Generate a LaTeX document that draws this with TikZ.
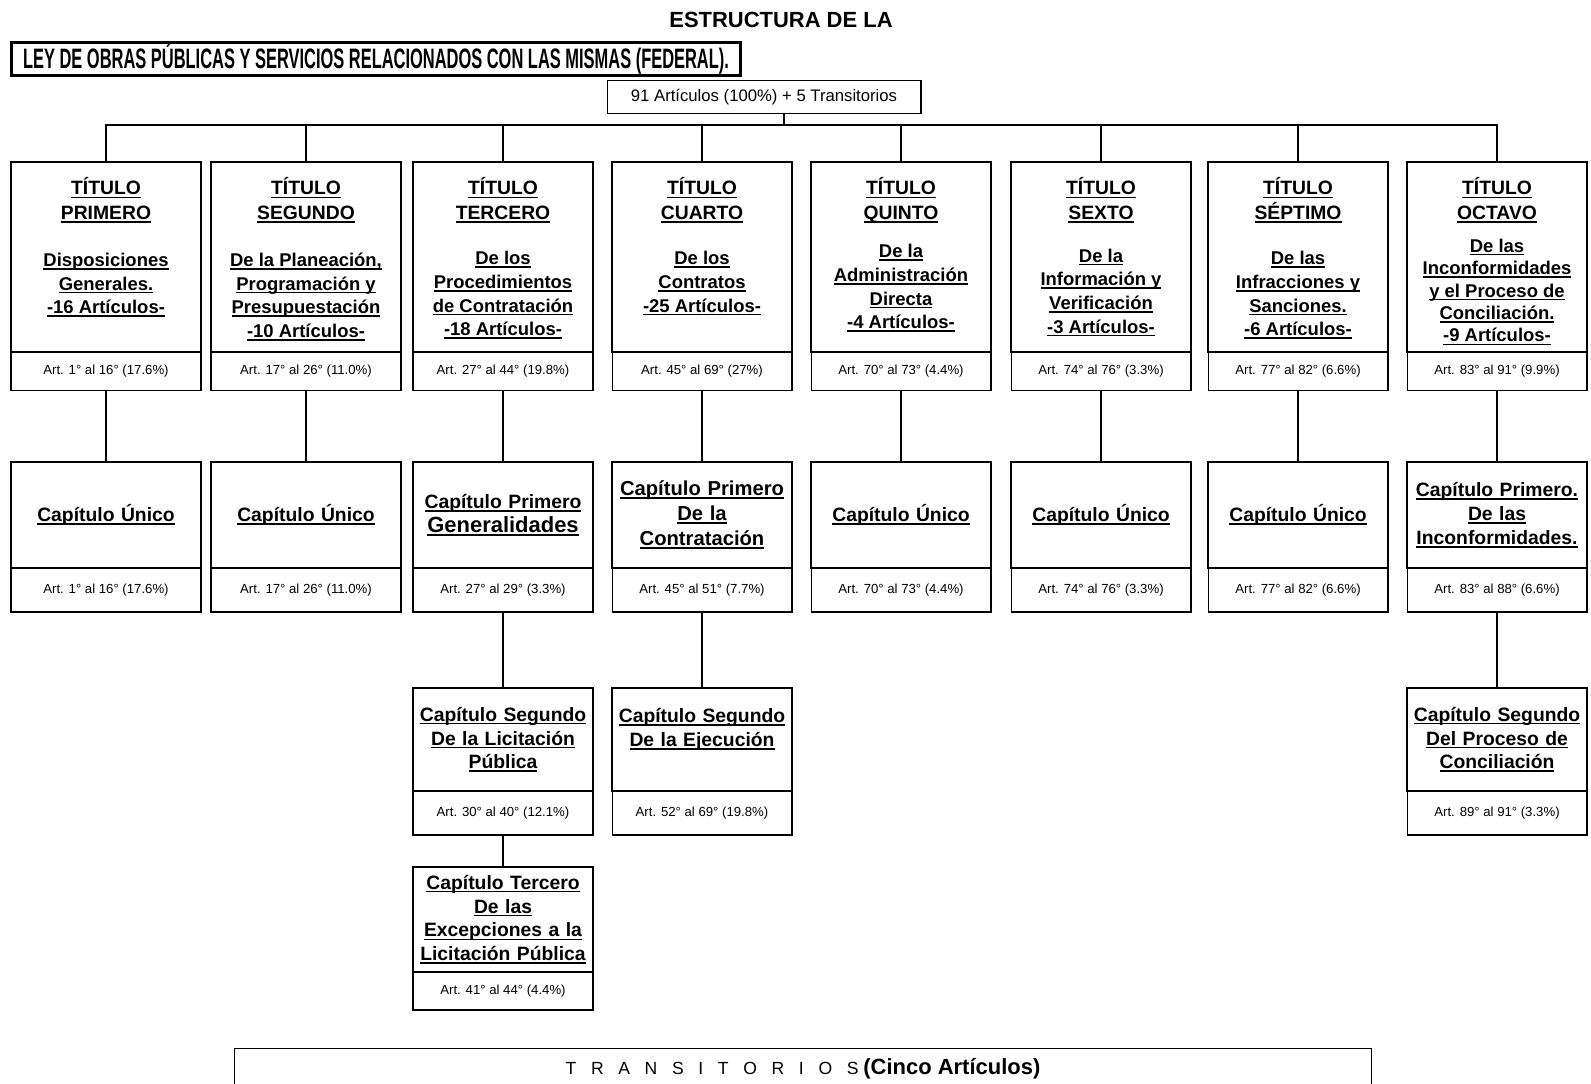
\documentclass[tikz,border=0pt]{standalone}
\usepackage{fontspec}
\setmainfont{Liberation Sans}
\newfontfamily\condensada[FakeStretch=0.585]{Liberation Sans}
\usetikzlibrary{positioning}

% subrayado grueso, pegado a la linea base
\newcommand{\subr}[1]{\leavevmode\setbox0\hbox{#1}\rlap{\rule[-1.8pt]{\wd0}{0.9pt}}\box0}
% contenido de las cajas de titulo
\newcommand{\titulo}[3]{%
  \begin{minipage}[c][3.8cm][t]{3.5cm}\centering\bfseries
    \vspace*{9pt}\fontsize{11}{14.2}\selectfont
    \subr{TÍTULO}\\ \subr{#1}\par
    \vspace{#2}\fontsize{10.5}{13.5}\selectfont
    #3
  \end{minipage}}

\tikzset{
  titbox/.style={draw, line width=1.5pt, minimum width=#1, minimum height=3.8cm, inner sep=0pt, outer sep=0pt, anchor=north},
  titbox/.default=3.6cm,
  artbox/.style={draw, line width=0.6pt, minimum width=#1, minimum height=0.78cm, inner sep=0pt, outer sep=0pt, font=\fontsize{7.5}{8}\selectfont},
  artbox/.default=3.6cm,
  capbox/.style={draw, line width=1.5pt, minimum width=#1, text width=#1, align=center, minimum height=2.12cm, inner sep=0pt, outer sep=0pt, anchor=north, font=\bfseries\fontsize{11}{13.6}\selectfont},
  capbox/.default=3.6cm,
  conn/.style={line width=1.2pt}
}

\begin{document}
\begin{tikzpicture}[x=0.02cm, y=-0.02cm]
    \useasboundingbox (0,0) rectangle (1591,1084);
    \fill[white] (0,0) rectangle (1591,1084);

    \node[font=\bfseries\fontsize{12.5}{14}\selectfont] (encab) at (781,20) {ESTRUCTURA DE LA};
    \node[draw, line width=1.5pt, minimum width=14.58cm, minimum height=0.66cm, inner sep=0pt, font=\condensada\bfseries\fontsize{16}{18}\selectfont] (ley) at (376,59) {LEY DE OBRAS PÚBLICAS Y SERVICIOS RELACIONADOS CON LAS MISMAS (FEDERAL).};
    \node[draw, line width=0.6pt, minimum width=6.28cm, minimum height=0.66cm, inner sep=0pt, font=\fontsize{9.5}{11}\selectfont] (total) at (764,97) {91 Artículos (100\%) + 5 Transitorios};

    % titulos
    \node[titbox=3.8cm] (tit1) at (106,162) {\titulo{PRIMERO}{13pt}{\subr{Disposiciones}\\ \subr{Generales.}\\ \subr{-16 Artículos-}}};
    \node[titbox=3.8cm] (tit2) at (306,162) {\titulo{SEGUNDO}{13pt}{\subr{De la Planeación,}\\ \subr{Programación y}\\ \subr{Presupuestación}\\ \subr{-10 Artículos-}}};
    \node[titbox] (tit3) at (503,162) {\titulo{TERCERO}{12pt}{\subr{De los}\\ \subr{Procedimientos}\\ \subr{de Contratación}\\ \subr{-18 Artículos-}}};
    \node[titbox] (tit4) at (702,162) {\titulo{CUARTO}{12pt}{\subr{De los}\\ \subr{Contratos}\\ \subr{-25 Artículos-}}};
    \node[titbox] (tit5) at (901,162) {\titulo{QUINTO}{8pt}{\subr{De la}\\ \subr{Administración}\\ \subr{Directa}\\ \subr{-4 Artículos-}}};
    \node[titbox] (tit6) at (1101,162) {\titulo{SEXTO}{10.5pt}{\subr{De la}\\ \subr{Información y}\\ \subr{Verificación}\\ \subr{-3 Artículos-}}};
    \node[titbox] (tit7) at (1298,162) {\titulo{SÉPTIMO}{12pt}{\subr{De las}\\ \subr{Infracciones y}\\ \subr{Sanciones.}\\ \subr{-6 Artículos-}}};
    \node[titbox] (tit8) at (1497,162) {\titulo{OCTAVO}{5.5pt}{\fontsize{10.5}{12.8}\selectfont\subr{De las}\\ \subr{Inconformidades}\\ \subr{y el Proceso de}\\ \subr{Conciliación.}\\ \subr{-9 Artículos-}}};

    \node[artbox=3.8cm, below=0pt of tit1] (art1) {Art. 1° al 16° (17.6\%)};
    \node[artbox=3.8cm, below=0pt of tit2] (art2) {Art. 17° al 26° (11.0\%)};
    \node[artbox, below=0pt of tit3] (art3) {Art. 27° al 44° (19.8\%)};
    \node[artbox, below=0pt of tit4] (art4) {Art. 45° al 69° (27\%)};
    \node[artbox, below=0pt of tit5] (art5) {Art. 70° al 73° (4.4\%)};
    \node[artbox, below=0pt of tit6] (art6) {Art. 74° al 76° (3.3\%)};
    \node[artbox, below=0pt of tit7] (art7) {Art. 77° al 82° (6.6\%)};
    \node[artbox, below=0pt of tit8] (art8) {Art. 83° al 91° (9.9\%)};

    % capitulos
    \node[capbox=3.8cm] (cap1) at (106,462) {\subr{Capítulo Único}};
    \node[capbox=3.8cm] (cap2) at (306,462) {\subr{Capítulo Único}};
    \node[capbox] (cap3) at (503,462) {\subr{Capítulo Primero}\\ \fontsize{12.5}{14}\selectfont\subr{Generalidades}};
    \node[capbox, font=\bfseries\fontsize{11.5}{14.2}\selectfont] (cap4) at (702,462) {\subr{Capítulo Primero}\\ \subr{De la}\\ \subr{Contratación}};
    \node[capbox] (cap5) at (901,462) {\subr{Capítulo Único}};
    \node[capbox] (cap6) at (1101,462) {\subr{Capítulo Único}};
    \node[capbox] (cap7) at (1298,462) {\subr{Capítulo Único}};
    \node[capbox] (cap8) at (1497,462) {\subr{Capítulo Primero.}\\ \subr{De las}\\ \subr{Inconformidades.}};

    \node[artbox=3.8cm, below=0pt of cap1, minimum height=0.88cm] (capart1) {Art. 1° al 16° (17.6\%)};
    \node[artbox=3.8cm, below=0pt of cap2, minimum height=0.88cm] (capart2) {Art. 17° al 26° (11.0\%)};
    \node[artbox, below=0pt of cap3, minimum height=0.88cm] (capart3) {Art. 27° al 29° (3.3\%)};
    \node[artbox, below=0pt of cap4, minimum height=0.88cm] (capart4) {Art. 45° al 51° (7.7\%)};
    \node[artbox, below=0pt of cap5, minimum height=0.88cm] (capart5) {Art. 70° al 73° (4.4\%)};
    \node[artbox, below=0pt of cap6, minimum height=0.88cm] (capart6) {Art. 74° al 76° (3.3\%)};
    \node[artbox, below=0pt of cap7, minimum height=0.88cm] (capart7) {Art. 77° al 82° (6.6\%)};
    \node[artbox, below=0pt of cap8, minimum height=0.88cm] (capart8) {Art. 83° al 88° (6.6\%)};

    \node[capbox, minimum height=2.06cm] (seg3) at (503,688) {\subr{Capítulo Segundo}\\ \subr{De la Licitación}\\ \subr{Pública}};
    \node[capbox, minimum height=2.06cm] (seg4) at (702,688) {\subr{Capítulo Segundo}\\ \subr{De la Ejecución}\\ ~};
    \node[capbox, minimum height=2.06cm] (seg8) at (1497,688) {\subr{Capítulo Segundo}\\ \subr{Del Proceso de}\\ \subr{Conciliación}};
    \node[artbox, below=0pt of seg3, minimum height=0.88cm] (segart3) {Art. 30° al 40° (12.1\%)};
    \node[artbox, below=0pt of seg4, minimum height=0.88cm] (segart4) {Art. 52° al 69° (19.8\%)};
    \node[artbox, below=0pt of seg8, minimum height=0.88cm] (segart8) {Art. 89° al 91° (3.3\%)};

    \node[capbox, minimum height=2.1cm] (ter3) at (503,867) {\subr{Capítulo Tercero}\\ \subr{De las}\\ \subr{Excepciones a la}\\ \subr{Licitación Pública}};
    \node[artbox, below=0pt of ter3, minimum height=0.76cm] (terart3) {Art. 41° al 44° (4.4\%)};

    \node[draw, line width=0.8pt, minimum width=22.74cm, minimum height=0.8cm, inner sep=0pt, anchor=north, font=\fontsize{10}{11}\selectfont] (trans) at (803,1048) {T~~~R~~~A~~~N~~~S~~~I~~~T~~~O~~~R~~~I~~~O~~~S \textbf{\fontsize{12.5}{13}\selectfont(Cinco Artículos)}};

    % conectores
    \coordinate (bus) at (784,125);
    \draw[conn] (total.south -| bus) -- (bus);
    \draw[conn] (tit1.north) -- (tit1.north |- bus) -- (tit8.north |- bus) -- (tit8.north);
    \foreach \i in {2,...,7}
        \draw[conn] (tit\i.north) -- (tit\i.north |- bus);
    \foreach \i in {1,...,8}
        \draw[conn] (art\i.south) -- (cap\i.north);
    \foreach \i in {3,4,8}
        \draw[conn] (capart\i.south) -- (seg\i.north);
    \draw[conn] (segart3.south) -- (ter3.north);
\end{tikzpicture}
\end{document}
